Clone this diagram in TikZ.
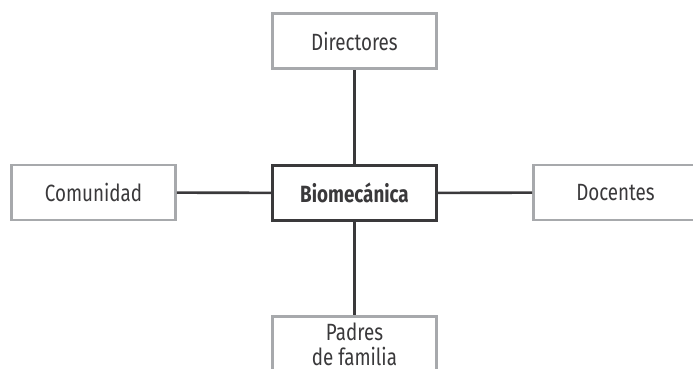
\documentclass[tikz,border=0pt]{standalone}
\usepackage{fontspec}
\setmainfont[FakeStretch=0.8]{Fira Sans}
\definecolor{boxgray}{HTML}{A7A9AC}
\definecolor{darkline}{HTML}{3A393B}
\begin{document}
\begin{tikzpicture}[x=1pt,y=-1pt,
  outer/.style={draw=boxgray,line width=2.6pt,fill=white,minimum width=164pt,minimum height=55pt,inner sep=0pt,text=darkline,font=\fontsize{23.5}{25}\selectfont,align=center},
  center/.style={draw=darkline,line width=2.8pt,fill=white,minimum width=164pt,minimum height=55pt,inner sep=0pt,text=darkline,font=\fontsize{23.5}{25}\selectfont\bfseries},
  link/.style={draw=darkline,line width=2.6pt}]
\useasboundingbox (0,0) rectangle (693,369);
\clip (0,0) rectangle (693,369);
\node[center] (bio) at (354.5,193) {Biomecánica};
\node[outer] (dir) at (354.5,41) {Directores};
\node[outer] (com) at (93.5,192.5) {Comunidad};
\node[outer] (doc) at (615.5,192.5) {Docentes};
\node[outer] (pad) at (354.5,344) {Padres\\de familia};
\draw[link] (bio) -- (dir);
\draw[link] (bio) -- (com);
\draw[link] (bio) -- (doc);
\draw[link] (bio) -- (pad);
\end{tikzpicture}
\end{document}
